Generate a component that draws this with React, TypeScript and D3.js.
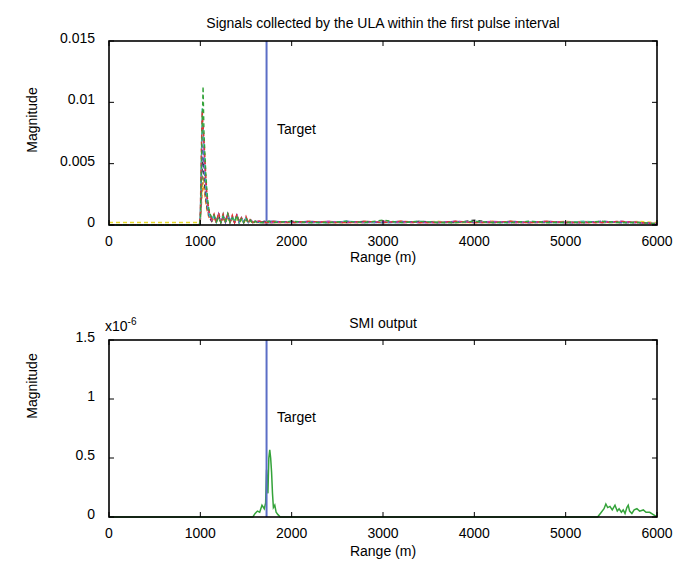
import React, { useEffect, useRef } from 'react';
import * as d3 from 'd3';

// range grid (m) shared by the ULA channel traces
const ulaRange = [
  0, 250, 500, 750, 990,
  1000, 1010, 1020, 1030, 1040, 1050, 1060, 1070, 1080, 1090, 1100,
  1125, 1150, 1175, 1200, 1225, 1250, 1275, 1300, 1325, 1350, 1375, 1400, 1425, 1450, 1475, 1500, 1525, 1550, 1575, 1600,
  1650, 1700, 1750, 1800,
  2000, 2200, 2400, 2600, 2800, 3000, 3200, 3400, 3600, 3800, 4000, 4200, 4400, 4600, 4800, 5000, 5200, 5400, 5600, 5800, 6000,
];

// channel magnitudes, units of 1e-4
const chYellow = [
  2, 2, 2, 2, 2,
  3, 18, 30, 40, 35, 28, 22, 16, 12, 9, 7,
  4, 5, 2, 6, 2, 5, 2, 6, 2, 5, 2, 5, 2, 4, 2, 4, 2, 3, 2, 2,
  2, 2, 2, 2,
  2, 3, 2, 2, 2, 3, 2, 2, 3, 2, 2, 2, 3, 2, 2, 2, 3, 2, 2, 3, 2,
];
const chOrange = [
  0, 0, 0, 0, 0,
  4, 15, 25, 35, 30, 24, 18, 13, 10, 7, 5,
  3, 6, 2, 7, 2, 6, 3, 8, 2, 6, 2, 7, 2, 5, 2, 5, 2, 4, 1, 3,
  2, 2, 3, 2,
  2, 2, 3, 2, 2, 2, 3, 2, 2, 2, 2, 3, 2, 2, 2, 3, 2, 2, 2, 2, 1,
];
const chBlack = [
  0, 0, 0, 0, 0,
  4, 25, 45, 55, 40, 30, 22, 16, 12, 9, 6,
  3, 7, 3, 8, 2, 7, 2, 8, 3, 6, 2, 7, 2, 5, 2, 5, 2, 4, 2, 3,
  2, 3, 2, 2,
  3, 2, 2, 2, 3, 2, 2, 3, 2, 2, 4, 2, 2, 2, 3, 2, 2, 3, 2, 2, 1,
];
const chBlue = [
  0, 0, 0, 0, 0,
  4, 30, 55, 65, 50, 38, 28, 20, 14, 10, 7,
  4, 8, 2, 9, 3, 8, 2, 9, 2, 7, 3, 8, 2, 6, 2, 6, 2, 4, 2, 3,
  2, 2, 3, 3,
  2, 3, 2, 3, 2, 2, 3, 2, 2, 3, 2, 2, 3, 2, 2, 2, 2, 3, 2, 2, 1,
];
const chMagenta = [
  0, 0, 0, 0, 0,
  6, 45, 70, 80, 60, 45, 32, 23, 16, 11, 8,
  4, 8, 3, 9, 2, 8, 3, 10, 2, 7, 2, 8, 3, 6, 2, 6, 2, 5, 2, 3,
  3, 2, 2, 2,
  2, 2, 3, 2, 2, 3, 2, 2, 2, 3, 2, 3, 2, 2, 3, 2, 2, 2, 3, 2, 1,
];
const chCyan = [
  0, 0, 0, 0, 0,
  8, 50, 95, 75, 65, 48, 34, 24, 17, 12, 8,
  5, 7, 2, 8, 3, 9, 2, 9, 3, 7, 2, 8, 2, 6, 2, 6, 2, 4, 2, 3,
  2, 2, 2, 3,
  2, 2, 2, 3, 2, 2, 2, 3, 2, 2, 3, 2, 2, 3, 2, 2, 3, 2, 2, 2, 1,
];
const chRed = [
  0, 0, 0, 0, 0,
  10, 55, 93, 80, 70, 55, 40, 28, 20, 14, 10,
  5, 9, 2, 10, 3, 9, 2, 10, 3, 8, 2, 9, 3, 6, 2, 7, 2, 5, 2, 3,
  3, 2, 2, 3,
  2, 3, 2, 2, 3, 2, 3, 2, 2, 3, 2, 2, 3, 2, 3, 2, 2, 2, 3, 2, 1,
];
const chGreen = [
  0, 0, 0, 0, 0,
  5, 40, 80, 113, 75, 58, 42, 30, 21, 15, 10,
  6, 8, 3, 6, 2, 7, 3, 9, 2, 6, 3, 8, 2, 5, 2, 6, 2, 4, 1, 3,
  2, 2, 3, 2,
  3, 2, 2, 3, 2, 4, 2, 3, 2, 2, 3, 2, 2, 3, 2, 2, 2, 3, 2, 2, 1,
];

const channels = [
  { name: 'ch8', color: '#e6d82a', values: chYellow },
  { name: 'ch7', color: '#f08a24', values: chOrange },
  { name: 'ch6', color: '#3a3a3a', values: chBlack },
  { name: 'ch5', color: '#5a4fc4', values: chBlue },
  { name: 'ch4', color: '#c23ac2', values: chMagenta },
  { name: 'ch3', color: '#2fd0d0', values: chCyan },
  { name: 'ch2', color: '#e2332f', values: chRed },
  { name: 'ch1', color: '#34a33a', values: chGreen },
];

// SMI output, units of 1e-6
const smiRange = [
  0, 1000, 1500, 1575, 1600, 1625, 1650, 1675, 1700, 1715, 1725, 1740, 1750, 1760, 1770, 1780, 1790, 1800, 1815, 1830, 1850, 1875,
  1900, 2500, 3000, 4000, 5000, 5350, 5380, 5420, 5440, 5460, 5485, 5510, 5540, 5565, 5585, 5610, 5630, 5650, 5670, 5685,
  5700, 5725, 5750, 5780, 5810, 5850, 5880, 5920, 5960, 6000,
];
const smiValue = [
  0, 0, 0, 0, 0.03, 0.05, 0.04, 0.1, 0.07, 0.12, 0.4, 0.2, 0.5, 0.57, 0.5, 0.38, 0.2, 0.08, 0.1, 0.04, 0.02, 0,
  0, 0, 0, 0, 0, 0, 0.03, 0.07, 0.11, 0.08, 0.09, 0.06, 0.1, 0.05, 0.07, 0.04, 0.06, 0.03, 0.08, 0.1,
  0.05, 0.03, 0.06, 0.07, 0.05, 0.06, 0.04, 0.04, 0.02, 0,
];

const targetRange = 1725;
const xTicks = [0, 1000, 2000, 3000, 4000, 5000, 6000];
const topYTicks = [0, 0.005, 0.01, 0.015];
const bottomYTicks = [0, 0.5, 1, 1.5];

const App = () => {
  const ref = useRef<SVGSVGElement>(null);

  useEffect(() => {
    const svg = d3.select(ref.current);
    svg.selectAll('*').remove();

    const width = 676;
    const height = 561;
    const left = 109;
    const right = 657;
    const font = 'Liberation Sans, Arial, sans-serif';
    const blue = '#5b6ec6';

    svg.attr('width', width).attr('height', height);

    const x = d3.scaleLinear().domain([0, 6000]).range([left, right]);

    const drawFrame = (top: number, bottom: number, y: d3.ScaleLinear<number, number>, yTicks: number[], fmt: (d: number) => string) => {
      const g = svg.append('g');
      g.append('rect')
        .attr('x', left).attr('y', top)
        .attr('width', right - left).attr('height', bottom - top)
        .attr('fill', 'none').attr('stroke', '#000').attr('stroke-width', 1.6);

      // ticks pointing inward on all four sides
      xTicks.forEach(t => {
        g.append('line').attr('x1', x(t)).attr('x2', x(t)).attr('y1', bottom).attr('y2', bottom - 5)
          .attr('stroke', '#000').attr('stroke-width', 1);
        g.append('line').attr('x1', x(t)).attr('x2', x(t)).attr('y1', top).attr('y2', top + 5)
          .attr('stroke', '#000').attr('stroke-width', 1);
        g.append('text').attr('x', x(t)).attr('y', bottom + 21)
          .attr('text-anchor', 'middle').attr('font-size', 14).attr('font-family', font)
          .text(t);
      });
      yTicks.forEach(t => {
        g.append('line').attr('x1', left).attr('x2', left + 5).attr('y1', y(t)).attr('y2', y(t))
          .attr('stroke', '#000').attr('stroke-width', 1);
        g.append('line').attr('x1', right).attr('x2', right - 5).attr('y1', y(t)).attr('y2', y(t))
          .attr('stroke', '#000').attr('stroke-width', 1);
        g.append('text').attr('x', left - 14).attr('y', y(t) + 2)
          .attr('text-anchor', 'end').attr('font-size', 14).attr('font-family', font)
          .text(fmt(t));
      });
      return g;
    };

    // Top panel
    const yTop = d3.scaleLinear().domain([0, 0.015]).range([225, 41]);
    const topPlot = svg.append('g');

    topPlot.append('line')
      .attr('x1', x(targetRange)).attr('x2', x(targetRange))
      .attr('y1', yTop(0)).attr('y2', yTop(0.015))
      .attr('stroke', blue).attr('stroke-width', 2);

    const line = d3.line<number>()
      .x((_, i) => x(ulaRange[i]))
      .y(d => yTop(d * 1e-4));

    channels.forEach((c, i) => {
      topPlot.append('path')
        .datum(c.values)
        .attr('fill', 'none')
        .attr('stroke', c.color)
        .attr('stroke-width', 1.4)
        .attr('stroke-dasharray', '4 3')
        .attr('stroke-dashoffset', i * 2)
        .attr('d', line);
    });

    drawFrame(41, 225, yTop, topYTicks, d => (d === 0 ? '0' : String(d)));

    topPlot.append('text').attr('x', 277).attr('y', 134)
      .attr('font-size', 14).attr('font-family', font).text('Target');

    svg.append('text').attr('x', (left + right) / 2).attr('y', 28)
      .attr('text-anchor', 'middle').attr('font-size', 14).attr('font-family', font)
      .text('Signals collected by the ULA within the first pulse interval');
    svg.append('text').attr('x', (left + right) / 2).attr('y', 262)
      .attr('text-anchor', 'middle').attr('font-size', 14).attr('font-family', font)
      .text('Range (m)');
    svg.append('text').attr('transform', 'rotate(-90)')
      .attr('x', -120).attr('y', 37)
      .attr('text-anchor', 'middle').attr('font-size', 14).attr('font-family', font)
      .text('Magnitude');

    // Bottom panel
    const yBot = d3.scaleLinear().domain([0, 1.5]).range([517, 340]);
    const botPlot = svg.append('g');

    const smiLine = d3.line<number>()
      .x((_, i) => x(smiRange[i]))
      .y(d => yBot(d));

    botPlot.append('path')
      .datum(smiValue)
      .attr('fill', 'none')
      .attr('stroke', '#34a33a')
      .attr('stroke-width', 1.5)
      .attr('d', smiLine);

    botPlot.append('line')
      .attr('x1', x(targetRange)).attr('x2', x(targetRange))
      .attr('y1', yBot(0)).attr('y2', yBot(1.5))
      .attr('stroke', blue).attr('stroke-width', 2);

    drawFrame(340, 517, yBot, bottomYTicks, d => String(d));

    botPlot.append('text').attr('x', 277).attr('y', 422)
      .attr('font-size', 14).attr('font-family', font).text('Target');

    const exp = svg.append('text').attr('x', 105).attr('y', 331)
      .attr('font-size', 14).attr('font-family', font);
    exp.append('tspan').text('x10');
    exp.append('tspan').attr('dy', -6).attr('font-size', 10).text('-6');

    svg.append('text').attr('x', (left + right) / 2).attr('y', 328)
      .attr('text-anchor', 'middle').attr('font-size', 14).attr('font-family', font)
      .text('SMI output');
    svg.append('text').attr('x', (left + right) / 2).attr('y', 556)
      .attr('text-anchor', 'middle').attr('font-size', 14).attr('font-family', font)
      .text('Range (m)');
    svg.append('text').attr('transform', 'rotate(-90)')
      .attr('x', -386).attr('y', 37)
      .attr('text-anchor', 'middle').attr('font-size', 14).attr('font-family', font)
      .text('Magnitude');
  }, []);

  return <svg ref={ref} style={{ position: 'absolute', left: 0, top: 0, background: '#fff' }}></svg>;
};

export default App;
